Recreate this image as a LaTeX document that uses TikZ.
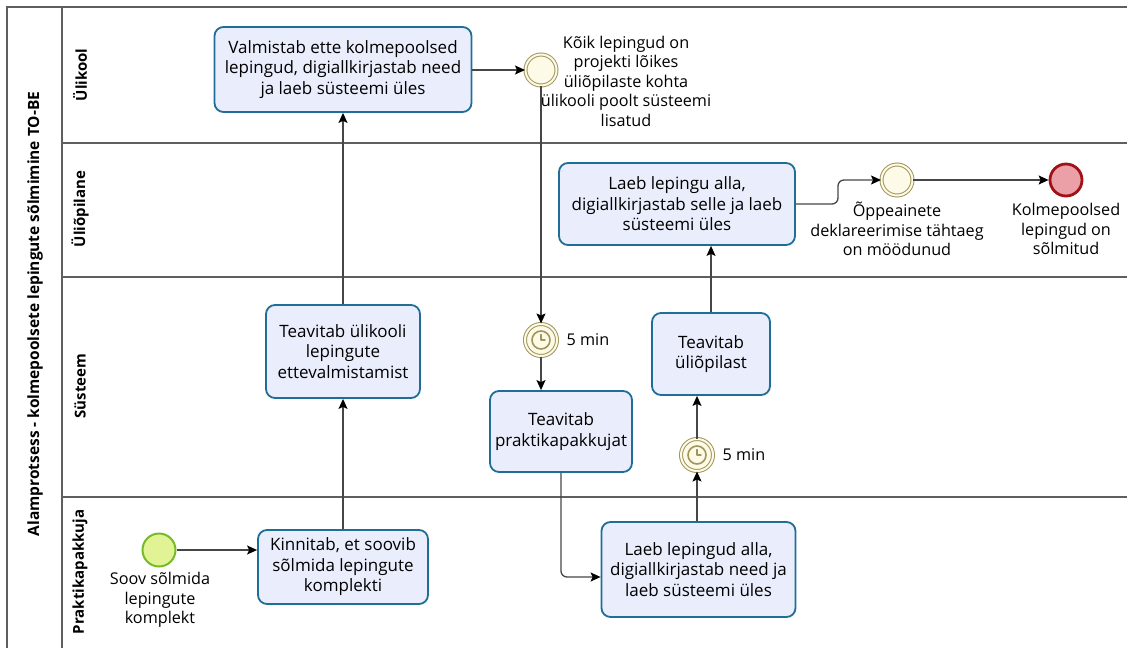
\documentclass[tikz,border=0pt]{standalone}
\usepackage{fontspec}
\setmainfont{Open Sans}
\usetikzlibrary{arrows.meta}

\definecolor{taskfill}{RGB}{234,238,252}
\definecolor{taskline}{RGB}{30,110,152}
\definecolor{evline}{RGB}{160,150,92}
\definecolor{evfill}{RGB}{253,250,232}
\definecolor{startfill}{RGB}{226,243,150}
\definecolor{startline}{RGB}{118,186,40}
\definecolor{endfill}{RGB}{234,160,166}
\definecolor{endline}{RGB}{160,18,22}
\definecolor{flowgray}{RGB}{70,70,70}
\definecolor{poolline}{RGB}{95,95,95}

\begin{document}
\begin{tikzpicture}[x=1pt,y=-1pt,
  task/.style={draw=taskline, fill=taskfill, line width=1.8pt, rounded corners=9pt,
    align=center, inner sep=0pt, font=\fontsize{17}{20.5}\selectfont},
  lbl/.style={align=center, inner sep=0pt, font=\fontsize{16.2}{19.5}\selectfont},
  lanelbl/.style={rotate=90, inner sep=0pt, font=\fontsize{15}{18}\selectfont\bfseries},
  midev/.style={circle, minimum size=31pt, inner sep=0pt, draw=evline, line width=1pt,
    double=evfill, double distance=2pt, fill=evfill},
  flow/.style={draw=flowgray, line width=1.3pt, -{Stealth[length=10pt,width=9pt,inset=2pt,black]}},
  lane/.style={draw=poolline, line width=1.3pt}
]
\useasboundingbox (0,0) rectangle (1127,648);

% pool frame and lanes
\draw[lane, line width=1.6pt] (1127,7) -- (7,7) -- (7,648);
\draw[lane] (62,7) -- (62,648);
\draw[lane] (62,143) -- (1127,143);
\draw[lane] (62,277) -- (1127,277);
\draw[lane] (62,497) -- (1127,497);

\node[lanelbl, font=\fontsize{15.5}{18}\selectfont\bfseries] (pool) at (35,314) {Alamprotsess - kolmepoolsete lepingute sõlmimine TO-BE};
\node[lanelbl] (lane1) at (80,75) {Ülikool};
\node[lanelbl] (lane2) at (80,209) {Üliõpilane};
\node[lanelbl] (lane3) at (80,386) {Süsteem};
\node[lanelbl] (lane4) at (80,572) {Praktikapakkuja};

% tasks
\node[task, minimum width=257pt, minimum height=85pt] (valm) at (343,69.5)
  {Valmistab ette kolmepoolsed\\lepingud, digiallkirjastab need\\ja laeb süsteemi üles};
\node[task, minimum width=154pt, minimum height=93pt] (teavul) at (343,351.5)
  {Teavitab ülikooli\\lepingute\\ettevalmistamist};
\node[task, minimum width=170pt, minimum height=74pt] (kinn) at (343,567)
  {Kinnitab, et soovib\\sõlmida lepingute\\komplekti};
\node[task, minimum width=142pt, minimum height=81pt] (teavpr) at (561,431.5)
  {Teavitab\\praktikapakkujat};
\node[task, minimum width=194pt, minimum height=95pt] (laebpr) at (698.5,569.5)
  {Laeb lepingud alla,\\digiallkirjastab need ja\\laeb süsteemi üles};
\node[task, minimum width=118pt, minimum height=82pt] (teavol) at (711,354)
  {Teavitab\\üliõpilast};
\node[task, minimum width=236pt, minimum height=82pt] (laebol) at (677,204)
  {Laeb lepingu alla,\\digiallkirjastab selle ja laeb\\süsteemi üles};

% events
\node[circle, minimum size=33pt, inner sep=0pt, draw=startline, line width=2pt, fill=startfill] (start) at (159,550) {};
\node[lbl] (startlbl) at (160,600) {Soov sõlmida\\lepingute\\komplekt};

\node[midev] (ie1) at (541,70) {};
\node[lbl] (ie1lbl) at (626,81) {Kõik lepingud on\\projekti lõikes\\üliõpilaste kohta\\ülikooli poolt süsteemi\\lisatud};

\node[midev, minimum size=32pt] (tm1) at (541,340) {};
\node[circle, minimum size=18pt, inner sep=0pt, draw=evline, line width=1.6pt] (tm1c) at (tm1) {};
\draw[evline, line width=1.4pt, line cap=round] (tm1c.center) -- ++(0,-5.5) (tm1c.center) -- ++(4,0);
\node[lbl] (tm1lbl) at (588,340) {5 min};

\node[midev, minimum size=32pt] (tm2) at (697,455) {};
\node[circle, minimum size=18pt, inner sep=0pt, draw=evline, line width=1.6pt] (tm2c) at (tm2) {};
\draw[evline, line width=1.4pt, line cap=round] (tm2c.center) -- ++(0,-5.5) (tm2c.center) -- ++(4,0);
\node[lbl] (tm2lbl) at (744,455) {5 min};

\node[midev] (ie2) at (897,180) {};
\node[lbl] (ie2lbl) at (897,229) {Õppeainete\\deklareerimise tähtaeg\\on möödunud};

\node[circle, minimum size=32pt, inner sep=0pt, draw=endline, line width=2.8pt, fill=endfill] (end) at (1066,180) {};
\node[lbl] (endlbl) at (1066,229) {Kolmepoolsed\\lepingud on\\sõlmitud};

% sequence flows
\coordinate (inpr) at (561,577);
\coordinate (bend) at (838,192);
\draw[flow] (start.east) -- (kinn.west |- start.east);
\draw[flow] (kinn.north) -- (teavul.south);
\draw[flow] (teavul.north) -- (valm.south);
\draw[flow] (valm.east |- ie1.west) -- (ie1.west);
\draw[flow] (ie1.south) -- (tm1.north);
\draw[flow] (tm1.south) -- (tm1.south |- teavpr.north);
\draw[flow, rounded corners=6pt] (teavpr.south) |- (laebpr.west |- inpr);
\draw[flow] (laebpr.north -| tm2) -- (tm2.south);
\draw[flow] (tm2.north) -- (tm2.north |- teavol.south);
\draw[flow] (teavol.north) -- (teavol.north |- laebol.south);
\draw[flow, rounded corners=6pt] (laebol.east) -| (bend) |- (ie2.west);
\draw[flow] (ie2.east) -- (end.west);
\end{tikzpicture}
\end{document}
